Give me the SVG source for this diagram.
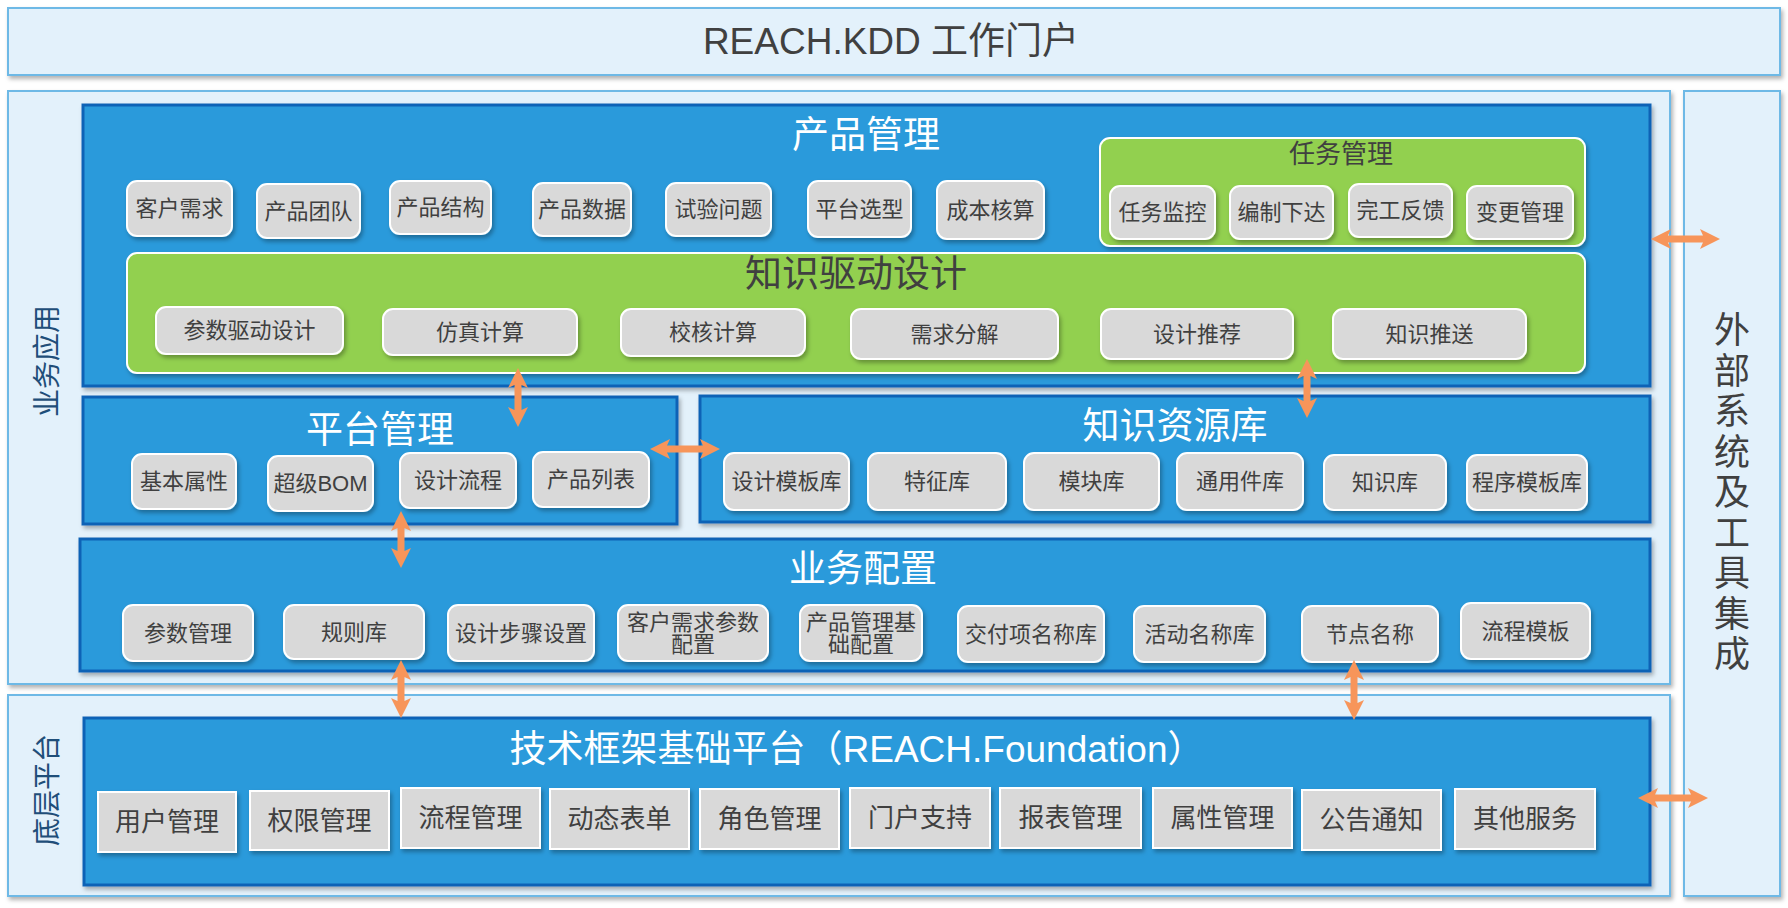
<svg xmlns="http://www.w3.org/2000/svg" width="1788" height="908" viewBox="0 0 1788 908">
<defs>
<filter id="sh" x="-10%" y="-10%" width="130%" height="140%">
<feDropShadow dx="2" dy="3" stdDeviation="2" flood-color="#000" flood-opacity="0.3"/>
</filter>
<style>
text{font-family:"Liberation Sans","Noto Sans CJK SC",sans-serif;text-anchor:middle;dominant-baseline:central}
.outer{fill:#E3F1FB;stroke:#6EB9E6;stroke-width:2;filter:url(#sh)}
.blue{fill:#2A9ADB;stroke:#0F62B6;stroke-width:3;filter:url(#sh)}
.green{fill:#92D050;stroke:#FFFFFF;stroke-width:2;filter:url(#sh)}
.item{fill:#D9D9D9;stroke:#FFFFFF;stroke-width:2;filter:url(#sh)}
.t-item{font-size:22px;fill:#404040}
.t-found{font-size:26px;fill:#404040}
.t-title{font-size:37px;fill:#FFFFFF}
.t-gtitle{font-size:37px;fill:#404040}
.t-side{font-size:28px;fill:#1F4E79}
.t-ext{font-size:36px;fill:#404040}
.arrow{fill:#F7955A}
</style>
</defs>

<g id="portal">
<rect class="outer" x="8" y="8" width="1772" height="67"/>
<text x="891" y="41" style="font-size:37px;fill:#404040">REACH.KDD 工作门户</text>
</g>

<g id="business-app">
<rect class="outer" x="8" y="91" width="1662" height="593"/>
<text class="t-side" transform="translate(47,361) rotate(-90)">业务应用</text>
</g>

<g id="base-platform">
<rect class="outer" x="8" y="695" width="1662" height="201"/>
<text class="t-side" transform="translate(47,790) rotate(-90)">底层平台</text>
</g>

<g id="external">
<rect class="outer" x="1684" y="91" width="96" height="805"/>
<text class="t-ext">
<tspan x="1732" y="330">外</tspan><tspan x="1732" y="370.5">部</tspan><tspan x="1732" y="411">系</tspan><tspan x="1732" y="451.5">统</tspan><tspan x="1732" y="492">及</tspan><tspan x="1732" y="532.5">工</tspan><tspan x="1732" y="573">具</tspan><tspan x="1732" y="613.5">集</tspan><tspan x="1732" y="654">成</tspan>
</text>
</g>

<g id="product-mgmt">
<rect class="blue" x="83" y="105" width="1567" height="281"/>
<text class="t-title" x="866" y="135">产品管理</text>
<rect class="item" x="127" y="181" width="105" height="55" rx="10"/><text class="t-item" x="179.5" y="208.5">客户需求</text>
<rect class="item" x="257" y="184" width="103" height="54" rx="10"/><text class="t-item" x="308.5" y="211">产品团队</text>
<rect class="item" x="390" y="181" width="101" height="53" rx="10"/><text class="t-item" x="440.5" y="207.5">产品结构</text>
<rect class="item" x="533" y="183" width="98" height="53" rx="10"/><text class="t-item" x="582" y="209.5">产品数据</text>
<rect class="item" x="666" y="183" width="105" height="53" rx="10"/><text class="t-item" x="718.5" y="209.5">试验问题</text>
<rect class="item" x="808" y="181" width="103" height="56" rx="10"/><text class="t-item" x="859.5" y="209">平台选型</text>
<rect class="item" x="937" y="181" width="107" height="58" rx="10"/><text class="t-item" x="990.5" y="210">成本核算</text>
</g>

<g id="task-mgmt">
<rect class="green" x="1100" y="138" width="485" height="108" rx="10"/>
<text x="1341" y="154" style="font-size:26px;fill:#404040">任务管理</text>
<rect class="item" x="1110" y="186" width="105" height="53" rx="10"/><text class="t-item" x="1162.5" y="212.5">任务监控</text>
<rect class="item" x="1230" y="186" width="103" height="53" rx="10"/><text class="t-item" x="1281.5" y="212.5">编制下达</text>
<rect class="item" x="1349" y="184" width="103" height="53" rx="10"/><text class="t-item" x="1400.5" y="210.5">完工反馈</text>
<rect class="item" x="1467" y="186" width="106" height="53" rx="10"/><text class="t-item" x="1520" y="212.5">变更管理</text>
</g>

<g id="kdd-design">
<rect class="green" x="127" y="253" width="1458" height="120" rx="10"/>
<text class="t-gtitle" x="856" y="274">知识驱动设计</text>
<rect class="item" x="156" y="307" width="187" height="47" rx="10"/><text class="t-item" x="249.5" y="330.5">参数驱动设计</text>
<rect class="item" x="383" y="309" width="194" height="46" rx="10"/><text class="t-item" x="480" y="332">仿真计算</text>
<rect class="item" x="621" y="309" width="184" height="47" rx="10"/><text class="t-item" x="713" y="332.5">校核计算</text>
<rect class="item" x="851" y="309" width="207" height="50" rx="10"/><text class="t-item" x="954.5" y="334">需求分解</text>
<rect class="item" x="1101" y="309" width="192" height="50" rx="10"/><text class="t-item" x="1197" y="334">设计推荐</text>
<rect class="item" x="1333" y="309" width="193" height="50" rx="10"/><text class="t-item" x="1429.5" y="334">知识推送</text>
</g>

<g id="platform-mgmt">
<rect class="blue" x="83" y="397" width="594" height="127"/>
<text class="t-title" x="380" y="430">平台管理</text>
<rect class="item" x="132" y="454" width="104" height="55" rx="10"/><text class="t-item" x="184" y="481.5">基本属性</text>
<rect class="item" x="268" y="456" width="105" height="55" rx="10"/><text class="t-item" x="320.5" y="483.5">超级BOM</text>
<rect class="item" x="400" y="453" width="116" height="55" rx="10"/><text class="t-item" x="458" y="480.5">设计流程</text>
<rect class="item" x="533" y="452" width="116" height="55" rx="10"/><text class="t-item" x="591" y="479.5">产品列表</text>
</g>

<g id="knowledge-lib">
<rect class="blue" x="700" y="396" width="950" height="126"/>
<text class="t-title" x="1175" y="426">知识资源库</text>
<rect class="item" x="724" y="453" width="125" height="57" rx="10"/><text class="t-item" x="786.5" y="481.5">设计模板库</text>
<rect class="item" x="868" y="453" width="138" height="57" rx="10"/><text class="t-item" x="937" y="481.5">特征库</text>
<rect class="item" x="1024" y="453" width="135" height="57" rx="10"/><text class="t-item" x="1091.5" y="481.5">模块库</text>
<rect class="item" x="1177" y="453" width="126" height="57" rx="10"/><text class="t-item" x="1240" y="481.5">通用件库</text>
<rect class="item" x="1324" y="455" width="122" height="55" rx="10"/><text class="t-item" x="1385" y="482.5">知识库</text>
<rect class="item" x="1467" y="455" width="120" height="55" rx="10"/><text class="t-item" x="1527" y="482.5">程序模板库</text>
</g>

<g id="business-config">
<rect class="blue" x="80" y="539" width="1570" height="132"/>
<text class="t-title" x="863" y="569">业务配置</text>
<rect class="item" x="123" y="605" width="130" height="56" rx="10"/><text class="t-item" x="188" y="633">参数管理</text>
<rect class="item" x="284" y="605" width="140" height="54" rx="10"/><text class="t-item" x="354" y="632">规则库</text>
<rect class="item" x="448" y="605" width="146" height="56" rx="10"/><text class="t-item" x="521" y="633">设计步骤设置</text>
<rect class="item" x="618" y="605" width="150" height="56" rx="10"/><text class="t-item"><tspan x="693" y="622">客户需求参数</tspan><tspan x="693" y="644">配置</tspan></text>
<rect class="item" x="800" y="605" width="122" height="56" rx="10"/><text class="t-item"><tspan x="861" y="622">产品管理基</tspan><tspan x="861" y="644">础配置</tspan></text>
<rect class="item" x="958" y="606" width="146" height="56" rx="10"/><text class="t-item" x="1031" y="634">交付项名称库</text>
<rect class="item" x="1134" y="606" width="131" height="56" rx="10"/><text class="t-item" x="1199.5" y="634">活动名称库</text>
<rect class="item" x="1302" y="606" width="136" height="56" rx="10"/><text class="t-item" x="1370" y="634">节点名称</text>
<rect class="item" x="1461" y="603" width="129" height="56" rx="10"/><text class="t-item" x="1525.5" y="631">流程模板</text>
</g>

<g id="foundation">
<rect class="blue" x="84" y="718" width="1566" height="167"/>
<text class="t-title" x="857" y="749">技术框架基础平台（REACH.Foundation）</text>
<rect class="item" x="98" y="792" width="138" height="60"/><text class="t-found" x="167" y="822">用户管理</text>
<rect class="item" x="250" y="791" width="139" height="59"/><text class="t-found" x="319.5" y="820.5">权限管理</text>
<rect class="item" x="401" y="788" width="139" height="60"/><text class="t-found" x="470.5" y="818">流程管理</text>
<rect class="item" x="550" y="789" width="139" height="60"/><text class="t-found" x="619.5" y="819">动态表单</text>
<rect class="item" x="700" y="789" width="139" height="60"/><text class="t-found" x="769.5" y="819">角色管理</text>
<rect class="item" x="850" y="788" width="140" height="60"/><text class="t-found" x="920" y="818">门户支持</text>
<rect class="item" x="1000" y="788" width="141" height="60"/><text class="t-found" x="1070.5" y="818">报表管理</text>
<rect class="item" x="1153" y="788" width="139" height="60"/><text class="t-found" x="1222.5" y="818">属性管理</text>
<rect class="item" x="1302" y="790" width="139" height="60"/><text class="t-found" x="1371.5" y="820">公告通知</text>
<rect class="item" x="1455" y="789" width="140" height="60"/><text class="t-found" x="1525" y="819">其他服务</text>
</g>

<g id="connectors">
<!-- vertical: product mgmt <-> platform mgmt -->
<path class="arrow" d="M518,368 L528,388 L521.5,385 L521.5,410 L528,407 L518,427 L508,407 L514.5,410 L514.5,385 L508,388 Z"/>
<!-- vertical: kdd design <-> knowledge lib -->
<path class="arrow" d="M1307,359 L1317,379 L1310.5,376 L1310.5,401 L1317,398 L1307,418 L1297,398 L1303.5,401 L1303.5,376 L1297,379 Z"/>
<!-- horizontal: platform mgmt <-> knowledge lib -->
<path class="arrow" d="M650,449 L670,439 L667,445.5 L703,445.5 L700,439 L720,449 L700,459 L703,452.5 L667,452.5 L670,459 Z"/>
<!-- vertical: platform mgmt <-> business config -->
<path class="arrow" d="M401,511 L411,531 L404.5,528 L404.5,551 L411,548 L401,568 L391,548 L397.5,551 L397.5,528 L391,531 Z"/>
<!-- vertical: business config <-> foundation -->
<path class="arrow" d="M401,660 L411,680 L404.5,677 L404.5,701 L411,698 L401,718 L391,698 L397.5,701 L397.5,677 L391,680 Z"/>
<!-- vertical right: business config <-> foundation -->
<path class="arrow" d="M1354,660 L1364,680 L1357.5,677 L1357.5,703 L1364,700 L1354,720 L1344,700 L1350.5,703 L1350.5,677 L1344,680 Z"/>
<!-- horizontal: business app <-> external -->
<path class="arrow" d="M1651,239 L1671,229 L1668,235.5 L1703,235.5 L1700,229 L1720,239 L1700,249 L1703,242.5 L1668,242.5 L1671,249 Z"/>
<!-- horizontal: foundation <-> external -->
<path class="arrow" d="M1638,798 L1658,788 L1655,794.5 L1691,794.5 L1688,788 L1708,798 L1688,808 L1691,801.5 L1655,801.5 L1658,808 Z"/>
</g>
</svg>
